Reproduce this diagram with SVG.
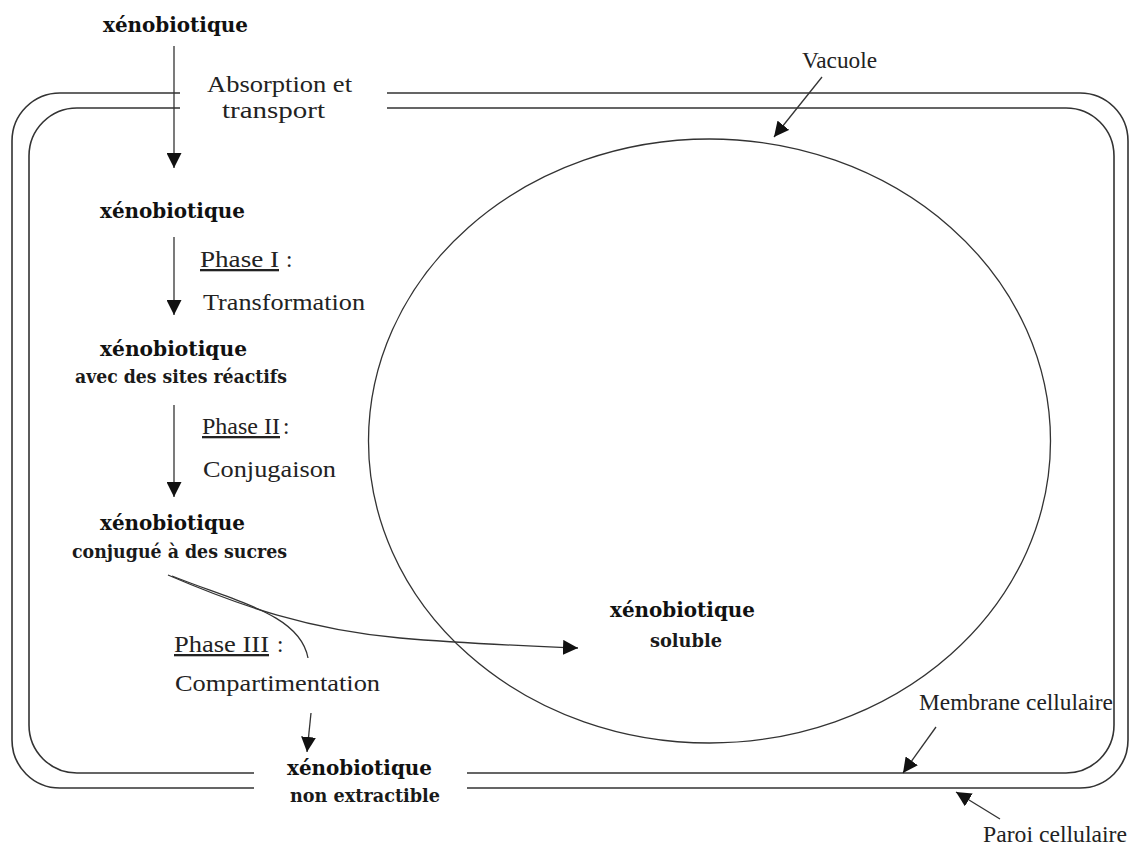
<svg xmlns="http://www.w3.org/2000/svg" width="1131" height="846" viewBox="0 0 1131 846">
<style>
  .b { font-family: "DejaVu Serif", "Liberation Serif", serif; font-weight: bold; font-size: 21px; fill: #111; }
  .bs { font-family: "DejaVu Serif", "Liberation Serif", serif; font-weight: bold; font-size: 19px; fill: #1a1a1a; }
  .r { font-family: "Liberation Serif", "Times New Roman", serif; font-size: 23px; fill: #222; }
  .u { text-decoration: underline; }
  .wall { fill: none; stroke: #333; stroke-width: 1.6; }
  .conn { fill: none; stroke: #333; stroke-width: 1.3; }
</style>
<defs>
  <marker id="ah" viewBox="0 0 16 16" refX="16" refY="8" markerUnits="userSpaceOnUse" markerWidth="15" markerHeight="15" orient="auto">
    <path d="M0 0 L16 8 L0 16 z" fill="#111"/>
  </marker>
</defs>
<rect width="1131" height="846" fill="#fff"/>

<g id="cell-wall">
  <path class="wall" d="M180 93 L60 93 A48 48 0 0 0 12 141 L12 740 A48 48 0 0 0 60 788 L254 788 M467 788 L1080 788 A48 48 0 0 0 1128 740 L1128 141 A48 48 0 0 0 1080 93 L387 93"/>
</g>
<g id="cell-membrane">
  <path class="wall" d="M180 108 L77 108 A48 48 0 0 0 29 156 L29 725 A48 48 0 0 0 77 773 L254 773 M467 773 L1066 773 A48 48 0 0 0 1114 725 L1114 156 A48 48 0 0 0 1066 108 L387 108"/>
</g>
<g id="vacuole">
  <ellipse cx="709.5" cy="441" rx="341" ry="302" fill="none" stroke="#333" stroke-width="1.3"/>
</g>

<g id="connectors">
  <line class="conn" x1="174" y1="46" x2="174" y2="168" marker-end="url(#ah)"/>
  <line class="conn" x1="174" y1="237" x2="174" y2="315" marker-end="url(#ah)"/>
  <line class="conn" x1="174" y1="405" x2="174" y2="497" marker-end="url(#ah)"/>
  <path class="conn" d="M168 575 C240 606 310 630 400 638 C470 644 530 646 578 648" marker-end="url(#ah)"/>
  <path class="conn" d="M172 576 C240 603 300 615 308 658"/>
  <line class="conn" x1="311" y1="713" x2="307" y2="752" marker-end="url(#ah)"/>
  <line class="conn" x1="822" y1="77" x2="774" y2="137" marker-end="url(#ah)"/>
  <line class="conn" x1="936" y1="727" x2="903" y2="773" marker-end="url(#ah)"/>
  <line class="conn" x1="1000" y1="819" x2="956" y2="792" marker-end="url(#ah)"/>
</g>

<g id="xeno-1"><text class="b" x="103" y="32" textLength="145" lengthAdjust="spacingAndGlyphs">xénobiotique</text></g>
<g id="label-absorption">
  <text class="r" x="207" y="92" textLength="145" lengthAdjust="spacingAndGlyphs">Absorption et</text>
  <text class="r" x="222" y="118" textLength="103" lengthAdjust="spacingAndGlyphs">transport</text>
</g>
<g id="xeno-2"><text class="b" x="100" y="218" textLength="145" lengthAdjust="spacingAndGlyphs">xénobiotique</text></g>
<g id="label-phase1">
  <text class="r u" x="200" y="267" textLength="79" lengthAdjust="spacingAndGlyphs">Phase I</text>
  <text class="r" x="286" y="267">:</text>
  <text class="r" x="203" y="310" textLength="162" lengthAdjust="spacingAndGlyphs">Transformation</text>
</g>
<g id="xeno-3">
  <text class="b" x="100" y="356" textLength="147" lengthAdjust="spacingAndGlyphs">xénobiotique</text>
  <text class="bs" x="75" y="383" textLength="212" lengthAdjust="spacingAndGlyphs">avec des sites réactifs</text>
</g>
<g id="label-phase2">
  <text class="r u" x="202" y="434" textLength="78" lengthAdjust="spacingAndGlyphs">Phase II</text>
  <text class="r" x="283" y="434">:</text>
  <text class="r" x="203" y="477" textLength="133" lengthAdjust="spacingAndGlyphs">Conjugaison</text>
</g>
<g id="xeno-4">
  <text class="b" x="100" y="530" textLength="145" lengthAdjust="spacingAndGlyphs">xénobiotique</text>
  <text class="bs" x="72" y="558" textLength="215" lengthAdjust="spacingAndGlyphs">conjugué à des sucres</text>
</g>
<g id="label-phase3">
  <text class="r u" x="174" y="652" textLength="95" lengthAdjust="spacingAndGlyphs">Phase III</text>
  <text class="r" x="277" y="652">:</text>
  <text class="r" x="175" y="691" textLength="205" lengthAdjust="spacingAndGlyphs">Compartimentation</text>
</g>
<g id="xeno-nonextractible">
  <text class="b" x="287" y="775" textLength="145" lengthAdjust="spacingAndGlyphs">xénobiotique</text>
  <text class="bs" x="290" y="802" textLength="150" lengthAdjust="spacingAndGlyphs">non extractible</text>
</g>
<g id="xeno-soluble">
  <text class="b" x="610" y="617" textLength="145" lengthAdjust="spacingAndGlyphs">xénobiotique</text>
  <text class="bs" x="650" y="647" textLength="72" lengthAdjust="spacingAndGlyphs">soluble</text>
</g>
<g id="label-vacuole"><text class="r" x="802" y="68" textLength="75" lengthAdjust="spacingAndGlyphs">Vacuole</text></g>
<g id="label-membrane"><text class="r" x="919" y="710" textLength="194" lengthAdjust="spacingAndGlyphs">Membrane cellulaire</text></g>
<g id="label-paroi"><text class="r" x="983" y="842" textLength="144" lengthAdjust="spacingAndGlyphs">Paroi cellulaire</text></g>
</svg>
